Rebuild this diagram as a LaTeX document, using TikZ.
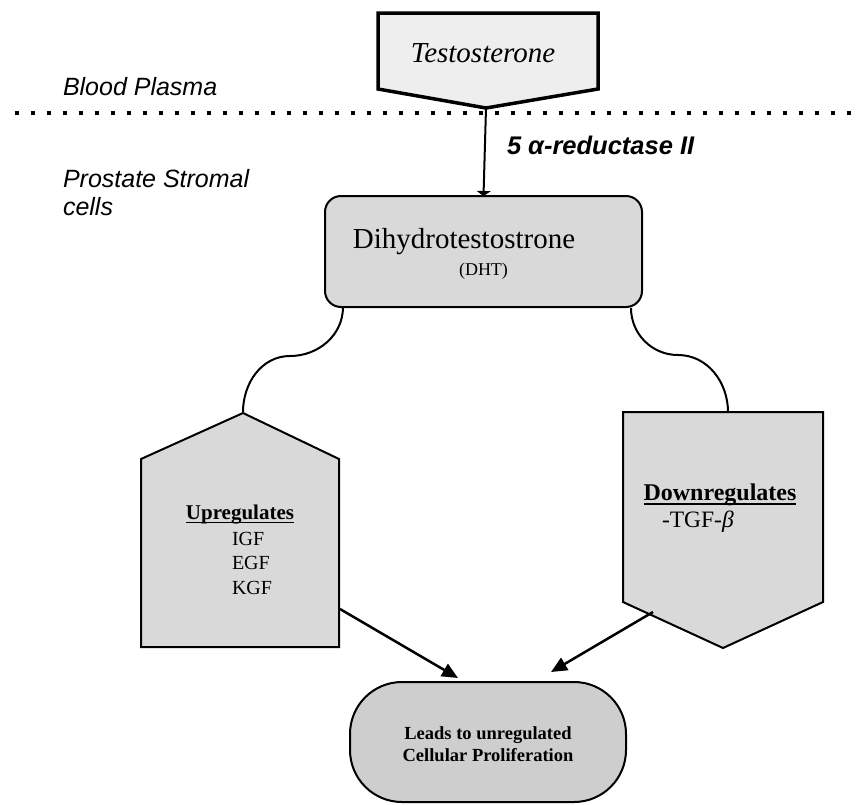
\documentclass[tikz,border=0pt]{standalone}
\usepackage{fontspec}
\setmainfont{Liberation Serif}
\setsansfont{Liberation Sans}
\usetikzlibrary{arrows.meta}
\definecolor{lightfill}{RGB}{238,238,238}
\definecolor{boxfill}{RGB}{217,217,217}
\definecolor{leadfill}{RGB}{206,206,206}
\begin{document}
\begin{tikzpicture}[x=1pt,y=-1pt,
  every node/.style={inner sep=0pt, outer sep=0pt},
  shapebox/.style={draw=black, line width=2pt, fill=boxfill, line join=miter},
  link/.style={draw=black, line width=2pt},
  flow/.style={draw=black, line width=2.5pt, -{Triangle[length=16pt,width=14pt]}},
  uline/.style={draw=black, line width=1.8pt},
  lbl/.style={font=\sffamily\itshape\fontsize{25pt}{28pt}\selectfont, align=left},
]
\useasboundingbox (0,0) rectangle (857,804);

% Testosterone
\path[draw=black, line width=3.5pt, fill=lightfill, line join=miter] (378,13) -- (598,13) -- (598,89) -- (486,108) -- (378,89) -- cycle;
\coordinate (testtip) at (486,108);
\node[font=\itshape\fontsize{29pt}{34pt}\selectfont] (test) at (483,53) {Testosterone};

% dotted boundary
\coordinate (dotL) at (15,113);
\coordinate (dotR) at (857,113);
\draw[line width=3.5pt, dash pattern=on 3.5pt off 12.5pt] (dotL) -- (dotR);

% region labels
\node[lbl, anchor=west] (blood) at (63,87) {Blood Plasma};
\node[lbl, anchor=west] (stromal) at (63,193) {Prostate Stromal\\cells};

% DHT
\node[shapebox, rounded corners=16pt, minimum width=317pt, minimum height=111pt] (dht) at (483.5,251.5) {};
\node[font=\fontsize{29pt}{34pt}\selectfont] (dhtname) at (464,242) {Dihydrotestostrone};
\node[font=\fontsize{18pt}{21pt}\selectfont] (dhtabbr) at (483.5,271) {(DHT)};

\draw[line width=2pt, -{Triangle[length=5pt,width=14pt]}] (testtip) -- (dht.north);
\node[font=\sffamily\bfseries\itshape\fontsize{25.5pt}{30pt}\selectfont, anchor=west] (enzyme) at (507,145) {5 α-reductase II};

% Upregulates
\path[shapebox] (243,413) -- (339,459) -- (339,647) -- (141,647) -- (141,459) -- cycle;
\coordinate (upapex) at (243,412);
\coordinate (dhtL) at (343,307);
\draw[link] (dhtL) to[out=-90,in=0] (290,356) to[out=180,in=90] (upapex);
\node[font=\bfseries\fontsize{21pt}{25pt}\selectfont] (uptitle) at (240,515) {Upregulates};
\draw[uline] ([yshift=-2.6pt]uptitle.base west) -- ([yshift=-2.6pt]uptitle.base east);
\node[font=\fontsize{20pt}{24pt}\selectfont, anchor=west] (igf) at (232,539) {IGF};
\node[font=\fontsize{20pt}{24pt}\selectfont, anchor=west] (egf) at (232,563) {EGF};
\node[font=\fontsize{20pt}{24pt}\selectfont, anchor=west] (kgf) at (232,588) {KGF};

% Downregulates
\path[shapebox] (623,412) -- (823,412) -- (823,602) -- (723,648) -- (623,602) -- cycle;
\coordinate (downtop) at (728,412);
\coordinate (dhtR) at (631,308);
\draw[link] (dhtR) to[out=-90,in=180] (678,355) to[out=0,in=90] (downtop);
\node[font=\bfseries\fontsize{24pt}{28pt}\selectfont] (downtitle) at (720,495) {Downregulates};
\draw[uline] ([yshift=-3pt]downtitle.base west) -- ([yshift=-3pt]downtitle.base east);
\node[font=\fontsize{23.5pt}{28pt}\selectfont, anchor=west] (tgf) at (662,522) {-TGF-\textit{β}};

% Lead
\node[draw=black, line width=2pt, fill=leadfill, rounded corners=52pt, minimum width=276pt, minimum height=120pt] (lead) at (488,742) {};
\node[font=\bfseries\fontsize{18.5pt}{22pt}\selectfont, align=center] (leadtext) at (488,744) {Leads to unregulated\\Cellular Proliferation};

% arrows to lead
\coordinate (upout) at (340,609);
\coordinate (leadinL) at (458,678);
\draw[flow] (upout) -- (leadinL);
\coordinate (downout) at (653,612);
\coordinate (leadinR) at (551,672);
\draw[flow] (downout) -- (leadinR);
\end{tikzpicture}
\end{document}
